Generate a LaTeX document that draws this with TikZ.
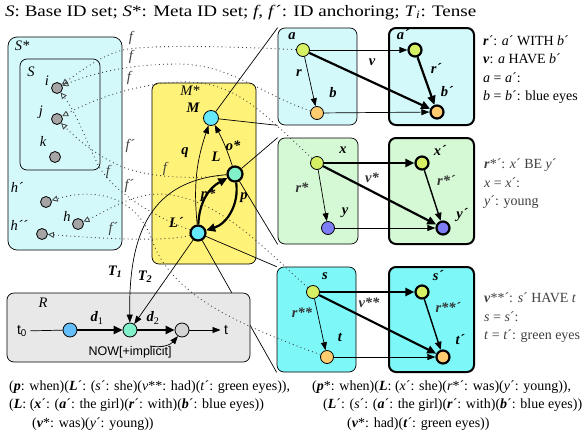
\documentclass[tikz,border=0pt]{standalone}
\usepackage{fontspec}
\setmainfont{Liberation Serif}
\setsansfont{Liberation Sans}
\usetikzlibrary{arrows.meta, positioning, calc}

\definecolor{idcyan}{RGB}{212,249,251}
\definecolor{idmint}{RGB}{212,249,212}
\definecolor{idaqua}{RGB}{125,247,247}
\definecolor{idyellow}{RGB}{255,242,120}
\definecolor{idpaper}{RGB}{232,232,232}
\definecolor{idlime}{RGB}{214,240,100}
\definecolor{idorange}{RGB}{255,204,112}
\definecolor{idblue}{RGB}{125,125,245}
\definecolor{idsky}{RGB}{100,232,250}
\definecolor{idsea}{RGB}{130,240,200}
\definecolor{idazure}{RGB}{100,190,250}
\definecolor{idgray}{RGB}{165,165,165}
\definecolor{idlight}{RGB}{212,212,212}

\newcommand{\txt}{\fontsize{14.5}{18.5}\selectfont}
\newcommand{\sml}{\fontsize{14}{18}\selectfont}
\newcommand{\bi}[1]{\textbf{\textit{#1}}}

\begin{document}
\begin{tikzpicture}[x=1pt, y=-1pt,
    every node/.style={font=\txt},
    lbl/.style={font=\txt\bfseries\itshape},
    itl/.style={font=\txt\itshape},
    panel/.style={draw, rounded corners=7pt, line width=0.7pt, inner sep=0pt},
    basebox/.style={panel, fill=#1},
    metabox/.style={panel, fill=#1, line width=2pt},
    ent/.style={circle, draw, line width=0.8pt, minimum size=13pt, inner sep=0pt, fill=#1},
    pent/.style={ent=#1, line width=2.2pt},
    arr/.style={-{Triangle[length=8pt,width=6pt]}, line width=0.7pt},
    midarr/.style={-{Triangle[length=8pt,width=6.5pt]}, line width=1.4pt},
    fatarr/.style={-{Triangle[length=9pt,width=8pt]}, line width=2.2pt},
    link/.style={line width=0.7pt},
    idline/.style={line width=0.9pt, black!75, dash pattern=on 0.9pt off 3.2pt,
        -{Triangle[open,length=6pt,width=6pt,line width=0.8pt]}},
    idlbl/.style={font=\txt\itshape, text=black!75},
    note/.style={anchor=base west, font=\sml, inner sep=0pt}]
\useasboundingbox (0,0) rectangle (586,437);

% heading
\node[note, font=\fontsize{16}{18}\selectfont] (head) at (5,16) {\scalebox{1.19}[1]{\textit{S}: Base ID set; \textit{S}*: Meta ID set; \textit{f}, \textit{f}´: ID anchoring; \textit{T}\textsubscript{\textit{i}}: Tense}};

% ID sets S* and S
\node[basebox=idcyan, rounded corners=9pt, minimum width=114pt, minimum height=213pt] (Sstar) at (65,143.5) {};
\node[itl] (SstarLbl) at (22,46) {S*};
\node[panel, minimum width=80pt, minimum height=111pt] (Sset) at (60,114.5) {};
\node[itl] (SLbl) at (31,72) {S};
\node[ent=idgray, minimum size=11pt] (i) at (57,88) {};
\node[ent=idgray, minimum size=11pt] (j) at (57,119) {};
\node[ent=idgray, minimum size=11pt] (k) at (55,157) {};
\node[ent=idgray, minimum size=11pt] (hp) at (46,202) {};
\node[ent=idgray, minimum size=11pt] (h) at (78,224) {};
\node[ent=idgray, minimum size=11pt] (hpp) at (42,234) {};
\node[itl] (iLbl) at (47,81) {i};
\node[itl] (jLbl) at (41,112) {j};
\node[itl] (kLbl) at (43,141) {k};
\node[itl] (hpLbl) at (17,187) {h´};
\node[itl] (hLbl) at (67,216) {h};
\node[itl] (hppLbl) at (19,225) {h´´};

% meta node M*
\node[basebox=idyellow, minimum width=104pt, minimum height=181pt] (Mstar) at (204,173.5) {};
\node[itl] (MstarLbl) at (190,91) {M*};
\node[ent=idsky, minimum size=15pt] (M) at (211,118) {};
\node[pent=idsea, minimum size=15pt] (L) at (235,174) {};
\node[pent=idsky, minimum size=15pt] (Lp) at (198,233) {};
\node[lbl] (MLbl) at (193,108) {M};
\node[lbl] (LLbl) at (216,157) {L};
\node[lbl] (oLbl) at (233,146) {o*};
\node[lbl] (LpLbl) at (176,222) {L´};
\node[lbl] (qLbl) at (185,153) {q};
\node[lbl] (pLbl) at (244,198) {p};
\node[lbl] (psLbl) at (208,195) {p*};

% situation boxes
\node[basebox=idcyan, minimum width=79pt, minimum height=97pt] (A) at (317.5,76.5) {};
\node[metabox=idcyan, minimum width=85pt, minimum height=97pt] (Ap) at (431.5,76.5) {};
\node[basebox=idmint, minimum width=80pt, minimum height=106pt] (X) at (318,191) {};
\node[metabox=idmint, minimum width=85pt, minimum height=106pt] (Xp) at (431.5,191) {};
\node[basebox=idaqua, minimum width=79pt, minimum height=105pt] (Sb) at (316.5,319.5) {};
\node[metabox=idaqua, minimum width=85pt, minimum height=105pt] (Sbp) at (431.5,319.5) {};

% top row
\node[ent=idlime] (a) at (303,50) {};
\node[ent=idorange] (b) at (317,113) {};
\node[pent=idlime] (ap) at (415,50) {};
\node[pent=idorange] (bp) at (437,112) {};
\node[lbl] at (292,36) {a};
\node[lbl] at (333,93) {b};
\node[lbl] at (403,35) {a´};
\node[lbl] at (447,92) {b´};
\node[lbl] at (299,73) {r};
\node[lbl] at (436,68) {r´};
\node[lbl] at (372,62) {v};

% middle row
\node[ent=idlime] (x) at (317,163) {};
\node[ent=idblue] (y) at (328,228) {};
\node[pent=idlime] (xp) at (422,163) {};
\node[pent=idblue] (yp) at (443,228) {};
\node[lbl] at (343,150) {x};
\node[lbl] at (345,213) {y};
\node[lbl] at (440,150) {x´};
\node[lbl] at (462,215) {y´};
\node[lbl, text=black!80] at (302,188) {r*};
\node[lbl, text=black!80] at (446,180) {r*´};
\node[lbl, text=black!80] at (372,178) {v*};

% bottom row
\node[ent=idlime] (s) at (313,292) {};
\node[ent=idorange] (t) at (327,357) {};
\node[pent=idlime] (sp) at (422,292) {};
\node[pent=idorange] (tp) at (443,357) {};
\node[lbl] at (325,276) {s};
\node[lbl] at (340,337) {t};
\node[lbl] at (438,276) {s´};
\node[lbl] at (460,340) {t´};
\node[lbl, text=black!80] at (302,313) {r**};
\node[lbl, text=black!80] at (448,307) {r**´};
\node[lbl, text=black!80] at (369,303) {v**};

% box arrows
\draw[arr] (a) -- (b);
\draw[arr] (a) -- (ap);
\draw[fatarr] (a) -- (bp);
\draw[arr] (b) -- (bp);
\draw[fatarr] (ap) -- (bp);
\draw[arr] (x) -- (y);
\draw[fatarr] (x) -- (xp);
\draw[fatarr] (x) -- (yp);
\draw[arr] (y) -- (yp);
\draw[midarr] (xp) -- (yp);
\draw[arr] (s) -- (t);
\draw[fatarr] (s) -- (sp);
\draw[fatarr] (s) -- (tp);
\draw[arr] (t) -- (tp);
\draw[midarr] (sp) -- (tp);

% meta relations
\draw[arr] (Lp) to[bend left=12] (M);
\draw[arr] (L) to[bend right=5] (M);
\draw[fatarr] (L) to[bend left=40] (Lp);
\draw[fatarr] (Lp) to[bend left=30] (L);
\draw[link] (M) -- (A.north west);
\draw[link] (M) -- (A.south west);
\draw[link] (L) -- (X.north west);
\draw[link] (L) -- (X.south west);
\draw[link] (Lp) -- (Sb.north west);
\draw[link] (Lp) -- (Sb.south west);

% right notes
\node[note] (n1) at (483,45) {\bi{r}´: \textit{a}´ WITH \textit{b}´};
\node[note] (n2) at (483,63.5) {\bi{v}: \textit{a} HAVE \textit{b}´};
\node[note] (n3) at (483,82) {\textit{a} = \textit{a}´:};
\node[note] (n4) at (483,100.5) {\textit{b} = \textit{b}´: blue eyes};
\node[note, text=black!75] (n5) at (484,168) {\bi{r}*´: \textit{x}´ BE \textit{y}´};
\node[note, text=black!75] (n6) at (484,187) {\textit{x} = \textit{x}´:};
\node[note, text=black!75] (n7) at (484,205) {\textit{y}´: young};
\node[note, text=black!75] (n8) at (484,302) {\bi{v}**´: \textit{s}´ HAVE \textit{t}};
\node[note, text=black!75] (n9) at (484,321) {\textit{s} = \textit{s}´:};
\node[note, text=black!75] (n10) at (484,339) {\textit{t} = \textit{t}´: green eyes};

% time line R
\node[basebox=idpaper, minimum width=243pt, minimum height=69pt] (R) at (128.5,327.5) {};
\node[itl] (RLbl) at (43,303) {R};
\node[ent=idazure, minimum size=14pt] (t1) at (70,330) {};
\node[ent=idsea, minimum size=14pt] (t2) at (130,330) {};
\node[ent=idlight, minimum size=14pt] (tnow) at (182,330) {};
\node[font=\fontsize{14}{16}\selectfont\sffamily] (t0) at (22,331) {t\textsubscript{0}};
\node[font=\fontsize{14}{16}\selectfont\sffamily] (tend) at (226,330) {t};
\node[lbl] at (97,318) {d\textsubscript{\upshape\mdseries 1}};
\node[lbl] at (153,318) {d\textsubscript{\upshape\mdseries 2}};
\node[font=\fontsize{12.5}{14}\selectfont\sffamily] (now) at (130,352) {NOW[+implicit]};
\coordinate (nowtail) at (150,346);
\draw[link] (t0) -- (t1);
\draw[fatarr] (t1) -- (t2);
\draw[fatarr] (t2) -- (tnow);
\draw[arr] (tnow) -- (tend);
\draw[arr] (nowtail) to[bend right=30] (tnow);
\draw[arr] (L) .. controls (160,180) and (128,220) .. (t2);
\draw[arr] (Lp) -- (t2);
\node[lbl] at (115,272) {T\textsubscript{1}};
\node[lbl] at (145,277) {T\textsubscript{2}};

% ID anchoring
\draw[idline] (a) .. controls (220,46) and (160,45) .. (128,49) .. controls (105,53) and (85,68) .. (i);
\draw[idline] (b) .. controls (262,95) and (230,64) .. (178,64) .. controls (140,64) and (100,70) .. (i);
\draw[idline] (x) .. controls (262,112) and (235,80) .. (180,82) .. controls (140,84) and (100,96) .. (j);
\draw[idline] (Lp) .. controls (150,215) and (112,190) .. (98,165) .. controls (86,140) and (76,112) .. (i);
\draw[idline] (L) .. controls (205,178) and (160,180) .. (125,168) .. controls (100,158) and (80,142) .. (j);
\draw[idline] (s) .. controls (270,255) and (220,196) .. (160,194) .. controls (130,194) and (105,212) .. (h);
\draw[idline] (Lp) .. controls (170,241) and (120,240) .. (hpp);
\draw[idline] (t) .. controls (230,322) and (170,292) .. (152,240) .. controls (138,200) and (100,186) .. (hp);
\node[idlbl] at (131,38) {f};
\node[idlbl] at (131,57) {f};
\node[idlbl] at (129,78) {f};
\node[idlbl] at (130,146) {f´};
\node[idlbl] at (108,172) {f};
\node[idlbl] at (165,169) {f};
\node[idlbl] at (129,186) {f´};
\node[idlbl] at (113,229) {f´};

% readings
\node[note] (rd1) at (9,390) {(\bi{p}: when)(\bi{L}´: (\textit{s}´: she)(\textit{v}**: had)(\textit{t}´: green eyes)),};
\node[note] (rd2) at (9,408.5) {(\bi{L}: (\bi{x}´: (\bi{a}´: the girl)(\bi{r}´: with)(\bi{b}´: blue eyes))};
\node[note] (rd3) at (32,427) {(\bi{v}*: was)(\textit{y}´: young))};
\node[note] (rd4) at (312,390) {(\bi{p}*: when)(\bi{L}: (\textit{x}´: she)(\textit{r}*´: was)(\textit{y}´: young)),};
\node[note] (rd5) at (323,408.5) {(\bi{L}´: (\textit{s}´: (\bi{a}´: the girl)(\bi{r}´: with)(\bi{b}´: blue eyes))};
\node[note] (rd6) at (347,427) {(\bi{v}*: had)(\bi{t}´: green eyes))};
\end{tikzpicture}
\end{document}
